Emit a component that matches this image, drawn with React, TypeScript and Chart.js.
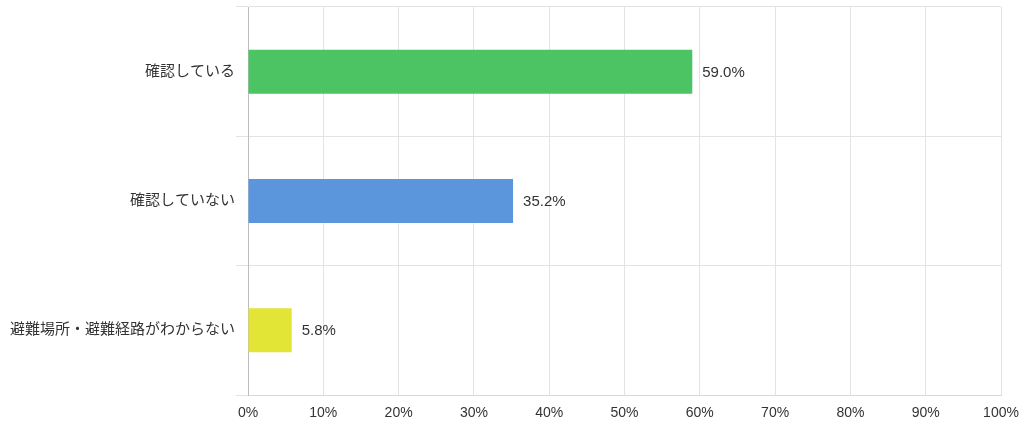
import React, { useEffect, useRef } from "react";
import { Chart, registerables } from "chart.js";

Chart.register(...registerables);

const categories = ["確認している", "確認していない", "避難場所・避難経路がわからない"];
const values = [59.0, 35.2, 5.8];
const barColors = ["#4cc464", "#5b95db", "#e2e436"];
const xTicks = [0, 10, 20, 30, 40, 50, 60, 70, 80, 90, 100];

const FONT = '"Liberation Sans", Arial, "Noto Sans CJK JP", sans-serif';

const valueLabels = {
  id: "valueLabels",
  afterDatasetsDraw(chart: any) {
    const { ctx } = chart;
    const meta = chart.getDatasetMeta(0);
    ctx.save();
    ctx.font = `15px ${FONT}`;
    ctx.fillStyle = "#333333";
    ctx.textAlign = "left";
    ctx.textBaseline = "middle";
    meta.data.forEach((bar: any, i: number) => {
      ctx.fillText(values[i].toFixed(1) + "%", bar.x + 10, bar.y + 1);
    });
    ctx.restore();
  },
};

export default function App() {
  const ref = useRef<HTMLCanvasElement | null>(null);
  useEffect(() => {
    document.body.style.margin = "0";
    const chart = new Chart(ref.current!, {
      type: "bar",
      data: {
        labels: categories,
        datasets: [
          {
            data: values,
            backgroundColor: barColors,
            barPercentage: 0.34,
            categoryPercentage: 1,
          },
        ],
      },
      options: {
        indexAxis: "y",
        animation: false,
        responsive: false,
        maintainAspectRatio: false,
        layout: { padding: { top: 7, right: 23, left: 0, bottom: 0 } },
        plugins: { legend: { display: false }, tooltip: { enabled: false } },
        scales: {
          x: {
            min: 0,
            max: 100,
            afterBuildTicks: (scale: any) => {
              scale.ticks = xTicks.map((v) => ({ value: v }));
            },
            afterFit: (scale: any) => {
              scale.height = 34;
              scale.paddingLeft = 0;
              scale.paddingRight = 0;
            },
            grid: { color: "#e3e3e3", drawTicks: false, lineWidth: 1 },
            border: { display: true, color: "#d8d8d8" },
            ticks: {
              padding: 10,
              color: "#333333",
              font: { family: FONT, size: 14 },
              callback: (v: any) => v + "%",
            },
          },
          y: {
            afterFit: (scale: any) => {
              scale.width = 248;
              scale.paddingTop = 0;
              scale.paddingBottom = 0;
            },
            grid: { color: "#e3e3e3", offset: true, tickLength: 12, lineWidth: 1 },
            border: { display: true, color: "#bdbdbd" },
            ticks: {
              padding: 1,
              color: "#333333",
              font: { family: FONT, size: 15 },
            },
          },
        },
      },
      plugins: [valueLabels],
    });
    return () => chart.destroy();
  }, []);
  return (
    <div style={{ width: 1024, height: 429 }}>
      <canvas ref={ref} width={1024} height={429} style={{ display: "block" }} />
    </div>
  );
}
